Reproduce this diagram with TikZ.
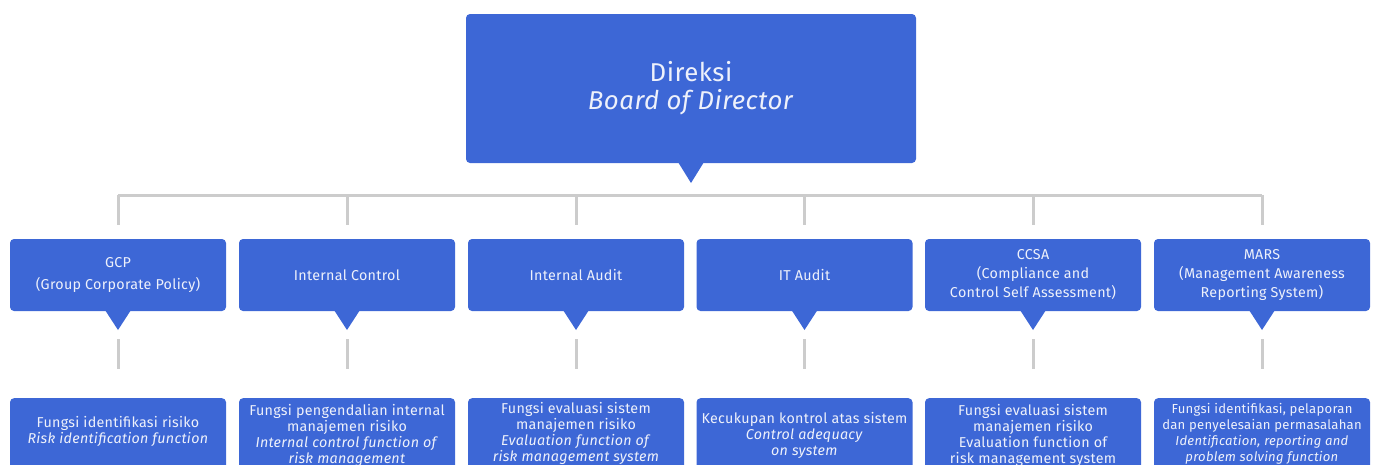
\documentclass[tikz,border=0pt]{standalone}
\usepackage{fontspec}
\setmainfont{Fira Sans}[LetterSpace=2]
\usetikzlibrary{positioning}
\definecolor{boxblue}{HTML}{3D67D6}
\definecolor{boxtext}{HTML}{EEF1FB}
\definecolor{linegray}{HTML}{CCCCCC}
\tikzset{
  topbox/.style={fill=boxblue, rounded corners=4pt, minimum width=450pt, minimum height=149pt, inner sep=0pt, text=boxtext, align=center, font=\fontsize{25.8}{28}\selectfont},
  midbox/.style={fill=boxblue, rounded corners=4pt, minimum width=216pt, minimum height=72pt, inner sep=0pt, text=boxtext, align=center, font=\fontsize{14.3}{19}\selectfont},
  lowbox/.style={fill=boxblue, rounded corners=4pt, minimum width=216pt, minimum height=100pt, inner sep=0pt, anchor=north},
  lowtext/.style={text=boxtext, align=center, inner sep=0pt, font=\fontsize{14.3}{16}\selectfont},
  smalltext/.style={lowtext, font=\fontsize{13.1}{16}\selectfont},
  pointer/.style={fill=boxblue},
  conn/.style={draw=linegray, line width=3pt},
}
\begin{document}
\begin{tikzpicture}[x=1pt,y=-1pt]
\useasboundingbox (0,0) rectangle (1375,464);
\clip (0,0) rectangle (1375,464);
% top box
\node[topbox] (top) at (691,88.5) {Direksi\\\textit{Board of Director}};
\fill[pointer] (678,162) -- (704,162) -- (691,183) -- cycle;
\coordinate (tip) at (691,183);
% bus
\coordinate (busL) at (118,195);
\coordinate (busR) at (1262,195);
\draw[conn] (busL) -- (busR);
% level 2
\foreach \n/\x/\t in {
  a/118/{GCP\\[3pt](Group Corporate Policy)},
  b/347/{Internal Control},
  c/576/{Internal Audit},
  d/804.5/{IT Audit},
  e/1033/{CCSA\\(Compliance and\\Control Self Assessment)},
  f/1262/{MARS\\(Management Awareness\\Reporting System)}}{
  \coordinate (bus\n) at (\x,195);
  \node[midbox] (m\n) at (\x,275) {\t};
  \draw[conn] (bus\n) -- (\x,225);
  \fill[pointer] (\x-13,310) -- (\x+13,310) -- (\x,330) -- cycle;
  \coordinate (s\n) at (\x,339);
  \coordinate (e\n) at (\x,369);
  \draw[conn] (s\n) -- (e\n);
  \node[lowbox] (l\n) at (\x,398) {};
}
\node[lowtext] (ta) at (118,431) {Fungsi identifikasi risiko\\\textit{Risk identification function}};
\node[lowtext] (tb) at (347,435) {Fungsi pengendalian internal\\manajemen risiko\\\textit{Internal control function of}\\\textit{risk management}};
\node[lowtext] (tc) at (576,433) {Fungsi evaluasi sistem\\manajemen risiko\\\textit{Evaluation function of}\\\textit{risk management system}};
\node[lowtext] (td) at (804.5,435) {Kecukupan kontrol atas sistem\\\textit{Control adequacy}\\\textit{on system}};
\node[lowtext] (te) at (1033,435.5) {Fungsi evaluasi sistem\\manajemen risiko\\Evaluation function of\\risk management system};
\node[smalltext] (tf) at (1262,434) {Fungsi identifikasi, pelaporan\\dan penyelesaian permasalahan\\\textit{Identification, reporting and}\\\textit{problem solving function}};
\end{tikzpicture}
\end{document}
